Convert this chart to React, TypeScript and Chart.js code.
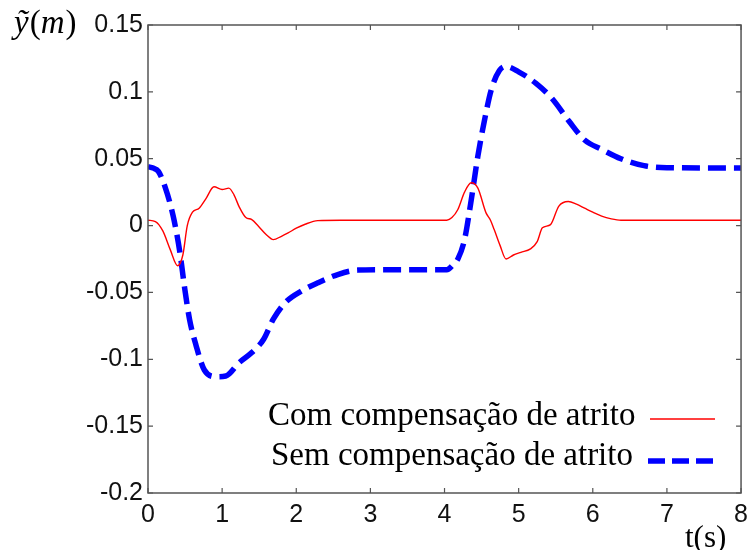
import React, { useEffect, useRef } from "react";
import { Chart, registerables } from "chart.js";

Chart.register(...registerables);

// "Com compensação de atrito" (red, solid)
const tCom = [0, 0.1, 0.2, 0.3, 0.4, 0.47, 0.53, 0.6, 0.69, 0.78, 0.89, 1.0, 1.09, 1.16, 1.23, 1.32, 1.4, 1.49, 1.6, 1.69, 1.8, 1.89, 2.0, 2.12, 2.29, 2.6, 4.03, 4.1, 4.18, 4.27, 4.36, 4.45, 4.56, 4.62, 4.67, 4.75, 4.83, 4.93, 5.03, 5.16, 5.25, 5.32, 5.43, 5.54, 5.67, 5.78, 5.89, 6.0, 6.12, 6.25, 6.38, 8.0];
const yCom = [0.004, 0.003, -0.004, -0.018, -0.03, -0.022, 0.0, 0.01, 0.013, 0.02, 0.029, 0.027, 0.028, 0.023, 0.014, 0.006, 0.0045, -0.0005, -0.007, -0.0105, -0.008, -0.0055, -0.002, 0.001, 0.0037, 0.004, 0.004, 0.006, 0.012, 0.025, 0.032, 0.028, 0.0095, 0.004, -0.003, -0.015, -0.025, -0.022, -0.02, -0.0174, -0.012, -0.0017, 0.0007, 0.0144, 0.018, 0.016, 0.013, 0.01, 0.007, 0.005, 0.004, 0.004];

// "Sem compensação de atrito" (blue, dashed)
const tSem = [0, 0.07, 0.14, 0.23, 0.34, 0.43, 0.49, 0.56, 0.65, 0.76, 0.92, 1.05, 1.23, 1.4, 1.56, 1.69, 1.85, 2.07, 2.29, 2.56, 2.83, 3.2, 4.03, 4.12, 4.18, 4.27, 4.36, 4.45, 4.54, 4.63, 4.74, 4.83, 5.0, 5.23, 5.45, 5.68, 5.89, 6.12, 6.38, 6.69, 7.0, 8.0];
const ySem = [0.044, 0.043, 0.0405, 0.029, 0.007, -0.02, -0.045, -0.07, -0.09, -0.108, -0.113, -0.1125, -0.1025, -0.095, -0.085, -0.07, -0.0577, -0.049, -0.0428, -0.0366, -0.0333, -0.033, -0.033, -0.029, -0.025, -0.0105, 0.019, 0.052, 0.079, 0.1015, 0.116, 0.119, 0.115, 0.1065, 0.095, 0.078, 0.064, 0.057, 0.05, 0.0448, 0.0433, 0.043];

const xTicks = [0, 1, 2, 3, 4, 5, 6, 7, 8];
const xTickLabels = ["0", "1", "2", "3", "4", "5", "6", "7", "8"];
const yTicks = [-0.2, -0.15, -0.1, -0.05, 0, 0.05, 0.1, 0.15];
const yTickLabels = ["-0.2", "-0.15", "-0.1", "-0.05", "0", "0.05", "0.1", "0.15"];

const seriesLabels = ["Com compensação de atrito", "Sem compensação de atrito"];
const seriesColors = ["#ff0000", "#0000ff"];
const xTitle = "t(s)";

const framePlugin = {
  id: "frame",
  afterDraw(chart: any) {
    const { ctx, chartArea: a, scales } = chart;
    ctx.save();
    // box
    ctx.strokeStyle = "#555";
    ctx.lineWidth = 1.5;
    ctx.setLineDash([]);
    ctx.strokeRect(a.left, a.top, a.right - a.left, a.bottom - a.top);
    // inward ticks
    ctx.lineWidth = 1.2;
    const tl = 5;
    xTicks.forEach((v) => {
      const px = scales.x.getPixelForValue(v);
      ctx.beginPath();
      ctx.moveTo(px, a.bottom);
      ctx.lineTo(px, a.bottom - tl);
      ctx.moveTo(px, a.top);
      ctx.lineTo(px, a.top + tl);
      ctx.stroke();
    });
    yTicks.forEach((v) => {
      const py = scales.y.getPixelForValue(v);
      ctx.beginPath();
      ctx.moveTo(a.left, py);
      ctx.lineTo(a.left + tl, py);
      ctx.moveTo(a.right, py);
      ctx.lineTo(a.right - tl, py);
      ctx.stroke();
    });

    // legend (text then sample on the right)
    ctx.fillStyle = "#000";
    ctx.textAlign = "left";
    ctx.textBaseline = "alphabetic";
    ctx.font = '33px "Liberation Serif"';
    ctx.fillText(seriesLabels[0], 268, 425);
    ctx.fillText(seriesLabels[1], 271, 465);
    ctx.strokeStyle = seriesColors[0];
    ctx.lineWidth = 1.6;
    ctx.beginPath();
    ctx.moveTo(650, 419);
    ctx.lineTo(715, 419);
    ctx.stroke();
    ctx.strokeStyle = seriesColors[1];
    ctx.lineWidth = 5.5;
    ctx.setLineDash([17, 7]);
    ctx.beginPath();
    ctx.moveTo(648, 461);
    ctx.lineTo(713, 461);
    ctx.stroke();
    ctx.setLineDash([]);

    // y axis title: ỹ(m)
    let x = 14;
    const yb = 33;
    const parts: [string, boolean][] = [["ỹ", true], ["(", false], ["m", true], [")", false]];
    parts.forEach(([s, it]) => {
      ctx.font = (it ? "italic " : "") + '33px "Liberation Serif"';
      ctx.fillText(s, x, yb);
      x += ctx.measureText(s).width + (it ? 1 : 0);
    });

    // x axis title
    ctx.font = '31px "Liberation Serif"';
    ctx.fillText(xTitle, 685, 547);
    ctx.restore();
  },
};

export default function App() {
  const ref = useRef<HTMLCanvasElement | null>(null);
  useEffect(() => {
    document.body.style.margin = "0";
    const canvas = ref.current!;
    const chart = new Chart(canvas, {
      type: "line",
      data: {
        datasets: [
          {
            label: seriesLabels[0],
            data: tCom.map((t, i) => ({ x: t, y: yCom[i] })),
            borderColor: seriesColors[0],
            borderWidth: 1.4,
            pointRadius: 0,
            cubicInterpolationMode: "monotone",
            fill: false,
          },
          {
            label: seriesLabels[1],
            data: tSem.map((t, i) => ({ x: t, y: ySem[i] })),
            borderColor: seriesColors[1],
            borderWidth: 5.5,
            borderDash: [18, 8],
            pointRadius: 0,
            cubicInterpolationMode: "monotone",
            fill: false,
          },
        ],
      },
      options: {
        responsive: false,
        animation: false,
        devicePixelRatio: 1,
        layout: { padding: { top: 25, right: 7, left: 0, bottom: 0 } },
        plugins: { legend: { display: false }, tooltip: { enabled: false } },
        scales: {
          x: {
            type: "linear",
            min: 0,
            max: 8,
            afterBuildTicks: (s: any) => {
              s.ticks = xTicks.map((v) => ({ value: v }));
            },
            afterFit: (s: any) => {
              s.height = 57;
            },
            grid: { display: false, drawTicks: false },
            border: { display: false },
            ticks: {
              padding: 7,
              maxRotation: 0,
              autoSkip: false,
              color: "#111",
              font: { family: "Liberation Sans", size: 25 },
              callback: (_v: any, i: number) => xTickLabels[i],
            },
          },
          y: {
            type: "linear",
            min: -0.2,
            max: 0.15,
            afterBuildTicks: (s: any) => {
              s.ticks = yTicks.map((v) => ({ value: v }));
            },
            afterFit: (s: any) => {
              s.width = 148;
            },
            grid: { display: false, drawTicks: false },
            border: { display: false },
            ticks: {
              padding: 5,
              autoSkip: false,
              color: "#111",
              font: { family: "Liberation Sans", size: 25 },
              callback: (_v: any, i: number) => yTickLabels[i],
            },
          },
        },
      },
      plugins: [framePlugin],
    } as any);
    return () => chart.destroy();
  }, []);
  return (
    <div style={{ position: "absolute", left: 0, top: 0, width: 755, height: 550, background: "#fff" }}>
      <canvas ref={ref} width={755} height={550} />
    </div>
  );
}
